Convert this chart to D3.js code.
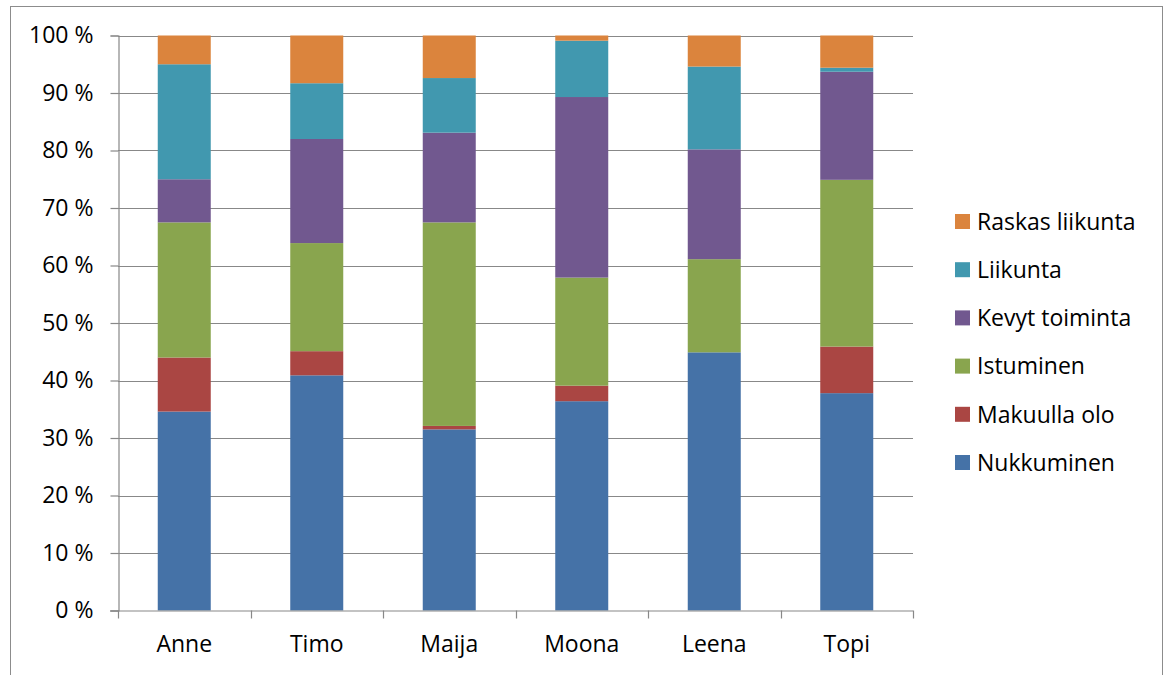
<!DOCTYPE html>
<html>
<head>
<meta charset="utf-8">
<script src="https://cdn.jsdelivr.net/npm/d3@7"></script>
<style>
  html, body { margin: 0; padding: 0; background: #fff; }
  svg { display: block; }
  text { font-family: "Open Sans", "Noto Sans", sans-serif; fill: #000; }
</style>
</head>
<body>
<script>
// People and activity shares of the day (percent)
const people = ["Anne", "Timo", "Maija", "Moona", "Leena", "Topi"];
const activities = ["Nukkuminen", "Makuulla olo", "Istuminen", "Kevyt toiminta", "Liikunta", "Raskas liikunta"];
const colors = ["#4572A7", "#AA4643", "#89A54E", "#71588F", "#4198AF", "#DB843D"];

const nukkuminen    = [34.6, 40.9, 31.5, 36.4, 44.9, 37.8];
const makuullaOlo   = [9.4, 4.2, 0.6, 2.7, 0.0, 8.1];
const istuminen     = [23.5, 18.8, 35.4, 18.8, 16.2, 29.0];
const kevytToiminta = [7.5, 18.1, 15.6, 31.4, 19.1, 18.8];
const liikunta      = [20.0, 9.7, 9.5, 9.8, 14.4, 0.7];
const raskasLiikunta = [5.0, 8.3, 7.4, 0.9, 5.4, 5.6];

const yTicks = [0, 10, 20, 30, 40, 50, 60, 70, 80, 90, 100];

const seriesValues = [nukkuminen, makuullaOlo, istuminen, kevytToiminta, liikunta, raskasLiikunta];
const rows = people.map((p, i) => {
  const r = { person: p };
  activities.forEach((a, j) => { r[a] = seriesValues[j][i]; });
  return r;
});

const W = 1165, H = 675;
const plot = { left: 118, right: 913, top: 35.5, bottom: 610.5 };
const fontSize = "23px";

const svg = d3.select("body").append("svg").attr("width", W).attr("height", H);

// outer chart frame
svg.append("rect")
  .attr("x", 10.5).attr("y", 6.5)
  .attr("width", 1152).attr("height", 700)
  .attr("fill", "none").attr("stroke", "#8c8c8c").attr("stroke-width", 1);

const x = d3.scaleBand().domain(people).range([plot.left, plot.right]).paddingInner(0.6).paddingOuter(0.3);
const y = d3.scaleLinear().domain([0, 100]).range([plot.bottom, plot.top]);

// horizontal gridlines
svg.append("g").selectAll("line").data(yTicks.filter(t => t > 0)).join("line")
  .attr("x1", plot.left).attr("x2", plot.right)
  .attr("y1", d => Math.round(y(d)) + 0.5).attr("y2", d => Math.round(y(d)) + 0.5)
  .attr("stroke", "#888").attr("stroke-width", 1.2);

// stacked bars
const stack = d3.stack().keys(activities).offset(d3.stackOffsetExpand);
const layers = stack(rows);

svg.append("g").selectAll("g").data(layers).join("g")
  .attr("fill", (d, i) => colors[i])
  .selectAll("rect").data(d => d).join("rect")
  .attr("x", d => x(d.data.person))
  .attr("width", x.bandwidth())
  .attr("y", d => y(d[1] * 100))
  .attr("height", d => y(d[0] * 100) - y(d[1] * 100));

// y axis
const yAxis = d3.axisLeft(y).tickValues(yTicks).tickSize(8).tickPadding(17).tickFormat(d => d + " %");
const gy = svg.append("g").attr("transform", `translate(${plot.left + 0.5},0)`).call(yAxis);
gy.select(".domain").attr("stroke", "#888").attr("stroke-width", 1.2);
gy.selectAll(".tick line").attr("stroke", "#888").attr("stroke-width", 1.2);
gy.selectAll(".tick text").style("font-size", fontSize).attr("font-family", "Open Sans, sans-serif");

// x axis with ticks between categories
const xAxis = d3.axisBottom(x).tickSize(0).tickPadding(25);
const gx = svg.append("g").attr("transform", `translate(0,${plot.bottom + 0.5})`).call(xAxis);
gx.select(".domain").remove();
gx.selectAll(".tick text").style("font-size", fontSize).attr("font-family", "Open Sans, sans-serif");
svg.append("line")
  .attr("x1", plot.left - 8).attr("x2", plot.right)
  .attr("y1", plot.bottom + 0.5).attr("y2", plot.bottom + 0.5)
  .attr("stroke", "#888").attr("stroke-width", 1.2);
const boundaries = d3.range(people.length + 1).map(i => plot.left + i * (plot.right - plot.left) / people.length);
svg.append("g").selectAll("line").data(boundaries).join("line")
  .attr("x1", d => Math.round(d) + 0.5).attr("x2", d => Math.round(d) + 0.5)
  .attr("y1", plot.bottom).attr("y2", plot.bottom + 8)
  .attr("stroke", "#888").attr("stroke-width", 1.2);

// legend (top entry is the last series)
const legendItems = activities.slice().reverse();
const lg = svg.append("g").attr("transform", "translate(955,214)");
legendItems.forEach((name, i) => {
  const g = lg.append("g").attr("transform", `translate(0,${i * 48.2})`);
  g.append("rect").attr("width", 15).attr("height", 15)
    .attr("fill", colors[activities.indexOf(name)]);
  g.append("text").attr("x", 22).attr("y", 7.5).attr("dy", "0.36em")
    .style("font-size", fontSize).text(name);
});
</script>
</body>
</html>
